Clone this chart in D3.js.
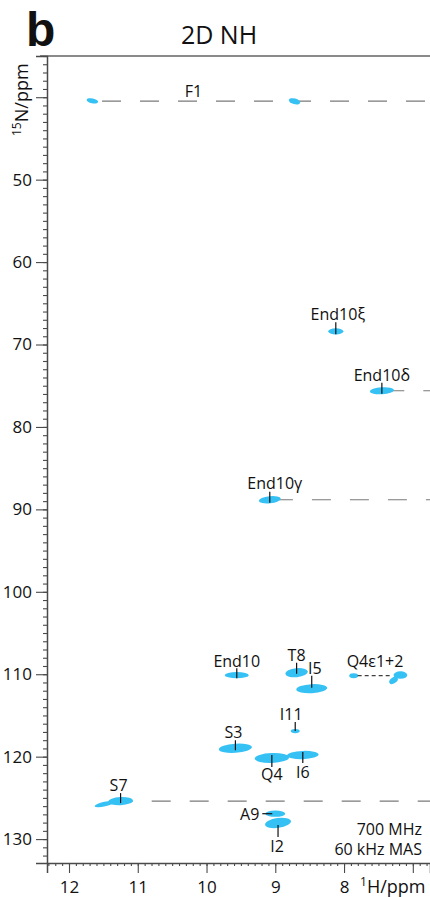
<!DOCTYPE html>
<html>
<head>
<meta charset="utf-8">
<script src="https://cdn.jsdelivr.net/npm/d3@7"></script>
<style>
  html, body { margin: 0; padding: 0; background: #fff; }
  svg { display: block; }
  text { font-family: "Open Sans", "DejaVu Sans", sans-serif; fill: #111; }
</style>
</head>
<body>
<svg id="chart" width="430" height="897"></svg>
<script>
// ---------- data (ppm) ----------
const peakNames = ["F1a","F1b","End10ξ","End10δ","End10γ","End10","T8","I5","Q4ε1","Q4ε2","Q4ε2b","I11","S3","Q4","I6","S7","S7t","A9","I2"];
const peakH     = [11.66, 8.72, 8.12, 7.45, 9.08, 9.56, 8.69, 8.47, 7.86, 7.18, 7.28, 8.71, 9.58, 9.05, 8.60, 11.25, 11.48, 9.00, 8.96];
const peakN     = [40.44, 40.50, 68.40, 75.61, 88.83, 110.11, 109.81, 111.75, 110.18, 110.10, 110.75, 116.90, 118.98, 120.16, 119.80, 125.39, 125.75, 126.92, 128.04];
const widthH    = [0.17, 0.17, 0.22, 0.35, 0.32, 0.35, 0.33, 0.45, 0.13, 0.20, 0.14, 0.13, 0.48, 0.50, 0.46, 0.36, 0.30, 0.29, 0.38];
const widthN    = [0.60, 0.70, 0.75, 0.85, 0.85, 0.75, 1.10, 1.10, 0.60, 0.90, 0.70, 0.50, 1.10, 1.20, 1.00, 1.00, 0.55, 0.75, 1.20];

// assignment labels: text, H, N of the labelled peak
const labelText = ["F1","End10ξ","End10δ","End10γ","End10","T8","I5","Q4ε1+2","I11","S3","Q4","I6","S7","A9","I2"];
const labelH    = [10.19, 8.12, 7.45, 9.08, 9.56, 8.69, 8.47, 7.55, 8.71, 9.58, 9.05, 8.60, 11.25, 9.00, 8.96];
const labelN    = [40.47, 68.40, 75.61, 88.83, 110.11, 109.81, 111.75, 110.18, 116.90, 118.98, 120.16, 119.80, 125.39, 126.92, 128.04];

// dashed reference lines: N value and starting 1H value (run to right edge)
const refLineN      = [40.47, 75.61, 88.83, 125.39];
const refLineStartH = [11.52, 7.40, 9.02, 11.35];

// connector between Q4ε1 and Q4ε2
const connH = [7.86, 7.21];
const connN = 110.18;

// axes
const xMajorTicks = [12, 11, 10, 9, 8, 7];
const xTickLabels = ["12", "11", "10", "9", "8", ""];
const yMajorTicks = [40, 50, 60, 70, 80, 90, 100, 110, 120, 130];
const yTickLabels = ["", "50", "60", "70", "80", "90", "100", "110", "120", "130"];
const xDomain = [12.32, 6.75];
const yDomain = [35, 132.9];

// ---------- drawing ----------
const svg = d3.select("#chart");
const pL = 47, pR = 430, pT = 56, pB = 863;
const x = d3.scaleLinear().domain(xDomain).range([pL, pR]);
const y = d3.scaleLinear().domain(yDomain).range([pT, pB]);

const axisColor = "#4a4a4a";
const peakColor = "#36c1f4";

// panel letter + title
svg.append("text").attr("x", 26).attr("y", 46)
  .style("font-family", "'Liberation Sans', Arial, sans-serif")
  .style("font-weight", "bold").style("font-size", "48px").text("b");
svg.append("text").attr("x", 219).attr("y", 44).attr("text-anchor", "middle")
  .style("font-size", "25px").text("2D NH");

// top frame
svg.append("line").attr("x1", 40).attr("x2", pR).attr("y1", pT).attr("y2", pT)
  .attr("stroke", "#8a8a8a").attr("stroke-width", 2);

// dashed reference lines
svg.append("g").selectAll("line").data(refLineN).join("line")
  .attr("x1", (d, i) => x(refLineStartH[i])).attr("x2", pR)
  .attr("y1", d => y(d)).attr("y2", d => y(d))
  .attr("stroke", "#7a7a7a").attr("stroke-width", 1.1)
  .attr("stroke-dasharray", "19,19");

// peaks
const rot = {"F1a": 12, "F1b": 15, "End10δ": -4, "End10γ": -6, "S3": -4, "Q4": -2, "I6": -2, "S7": -3, "S7t": -12, "Q4ε2": 0, "Q4ε2b": -35, "A9": 0, "I2": -8, "T8": -6, "I5": -3};
svg.append("g").selectAll("ellipse").data(peakNames).join("ellipse")
  .attr("cx", 0).attr("cy", 0)
  .attr("rx", (d, i) => Math.abs(x(0) - x(widthH[i])) / 2)
  .attr("ry", (d, i) => Math.abs(y(widthN[i]) - y(0)) / 2)
  .attr("transform", (d, i) => `translate(${x(peakH[i])},${y(peakN[i])}) rotate(${rot[d] || 0})`)
  .attr("fill", peakColor);

// Q4ε connector
svg.append("line")
  .attr("x1", x(connH[0]) + 4).attr("x2", x(connH[1]) - 6)
  .attr("y1", y(connN)).attr("y2", y(connN))
  .attr("stroke", "#111").attr("stroke-width", 1).attr("stroke-dasharray", "4,3");

// label placement (pixel offsets from peak)
const place = {
  "F1":     {tick: null, dx: 0, dy: -4},
  "End10ξ": {tick: [3, -9], dx: 2, dy: -11},
  "End10δ": {tick: [3, -8], dx: 0, dy: -10},
  "End10γ": {tick: [3, -8], dx: 5, dy: -11},
  "End10":  {tick: [3, -7], dx: 0, dy: -8},
  "T8":     {tick: [1, -10], dx: 0, dy: -12},
  "I5":     {tick: [-1, -13], dx: 3, dy: -15},
  "Q4ε1+2": {tick: null, dx: 0, dy: -9},
  "I11":    {tick: [0, -9], dx: -4, dy: -11},
  "S3":     {tick: [2, -8], dx: -2, dy: -10},
  "Q4":     {tick: [-3, 9], dx: 0, dy: 22},
  "I6":     {tick: [-3, 8], dx: 0, dy: 23},
  "S7":     {tick: [2, -8], dx: -2, dy: -10},
  "A9":     {htick: [-13, -3], dx: -16, dy: 6, anchor: "end"},
  "I2":     {tick: [2, 14], dx: -1, dy: 29}
};
const lg = svg.append("g");
labelText.forEach((t, i) => {
  const px = x(labelH[i]), py = y(labelN[i]);
  const p = place[t];
  if (p.tick) {
    lg.append("line").attr("x1", px).attr("x2", px)
      .attr("y1", py + p.tick[0]).attr("y2", py + p.tick[1])
      .attr("stroke", "#111").attr("stroke-width", 1.2);
  }
  if (p.htick) {
    lg.append("line").attr("x1", px + p.htick[0]).attr("x2", px + p.htick[1])
      .attr("y1", py).attr("y2", py)
      .attr("stroke", "#111").attr("stroke-width", 1.2);
  }
  lg.append("text").attr("x", px + p.dx).attr("y", py + p.dy)
    .attr("text-anchor", p.anchor || "middle")
    .style("font-size", "16px").text(t);
});

// spectrometer info
svg.append("text").attr("x", 422).attr("y", 835).attr("text-anchor", "end")
  .style("font-size", "16px").text("700 MHz");
svg.append("text").attr("x", 422).attr("y", 855).attr("text-anchor", "end")
  .style("font-size", "16px").text("60 kHz MAS");

// x axis
const xMinor = d3.range(123, 67, -1).map(v => v / 10).filter(v => v <= xDomain[0] && v >= xDomain[1]);
const gx = svg.append("g").attr("transform", `translate(0,${pB})`);
gx.call(d3.axisBottom(x).tickValues(xMinor).tickSize(3).tickFormat(""));
gx.call(g => g.selectAll(".domain").remove());
const gx2 = svg.append("g").attr("transform", `translate(0,${pB})`);
gx2.call(d3.axisBottom(x).tickValues(xMajorTicks).tickSize(10).tickPadding(8)
  .tickFormat((d, i) => xTickLabels[i]));
[gx, gx2].forEach(g => {
  g.selectAll("line").attr("stroke", axisColor).attr("stroke-width", 1.1);
  g.selectAll("text").style("font-size", "17px").attr("fill", "#111")
    .style("font-family", "'Open Sans', sans-serif");
});
gx2.select(".domain").attr("stroke", axisColor).attr("stroke-width", 1.5);

// y axis
const yMinor = d3.range(35, 133, 1).filter(v => v >= yDomain[0] && v <= yDomain[1]);
const gy = svg.append("g").attr("transform", `translate(${pL},0)`);
gy.call(d3.axisLeft(y).tickValues(yMinor).tickSize(4).tickFormat(""));
gy.call(g => g.selectAll(".domain").remove());
const gy2 = svg.append("g").attr("transform", `translate(${pL},0)`);
gy2.call(d3.axisLeft(y).tickValues(yMajorTicks).tickSize(11).tickPadding(4)
  .tickFormat((d, i) => yTickLabels[i]));
[gy, gy2].forEach(g => {
  g.selectAll("line").attr("stroke", axisColor).attr("stroke-width", 1.1);
  g.selectAll("text").style("font-size", "17px").attr("fill", "#111")
    .style("font-family", "'Open Sans', sans-serif");
});
gy2.select(".domain").attr("stroke", axisColor).attr("stroke-width", 1.5);

// axis titles
const xt = svg.append("text").attr("x", 360).attr("y", 893).style("font-size", "18px");
xt.append("tspan").style("font-size", "12px").attr("dy", -7).text("1");
xt.append("tspan").attr("dy", 7).text("H/ppm");

const yt = svg.append("text").attr("transform", "translate(28,136) rotate(-90)").style("font-size", "18px");
yt.append("tspan").style("font-size", "12px").attr("dy", -7).text("15");
yt.append("tspan").attr("dy", 7).text("N/ppm");
</script>
</body>
</html>
